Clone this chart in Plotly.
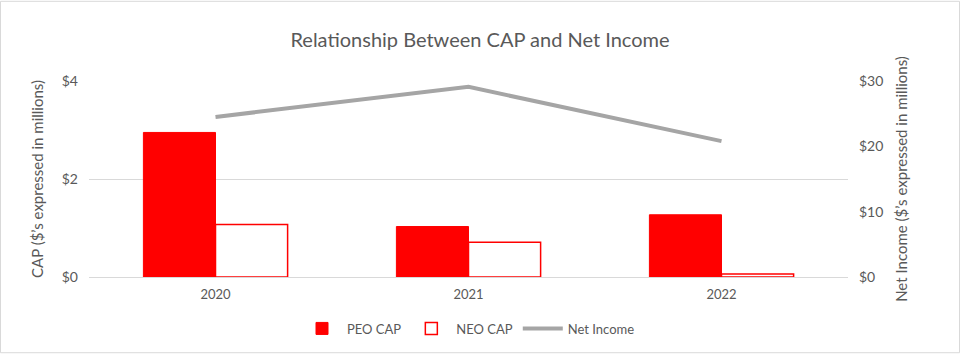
import plotly.graph_objects as go

years = ["2020", "2021", "2022"]
peo_cap = [2.95, 1.03, 1.27]
neo_cap = [1.07, 0.71, 0.06]
net_income = [24.5, 29.1, 20.8]

FONT = "Lato, Liberation Sans, sans-serif"
GRAY = "#595959"

fig = go.Figure()
fig.add_trace(go.Bar(x=years, y=peo_cap, name="PEO CAP",
                     marker=dict(color="#ff0000", line=dict(color="#ff0000", width=1))))
fig.add_trace(go.Bar(x=years, y=neo_cap, name="NEO CAP",
                     marker=dict(color="white", line=dict(color="#ff0000", width=1.5))))
fig.add_trace(go.Scatter(x=years, y=net_income, name="Net Income", yaxis="y2",
                         mode="lines", line=dict(color="#a5a5a5", width=4)))

L, R, T, B = 89, 112, 81, 77
pw, ph = 960 - L - R, 356 - T - B

fig.update_layout(
    width=960, height=356,
    margin=dict(l=L, r=R, t=T, b=B),
    paper_bgcolor="white", plot_bgcolor="white",
    font=dict(family=FONT, color=GRAY, size=13),
    title=dict(text="Relationship Between CAP and Net Income", x=0.5, xanchor="center",
               y=1 - 40 / 356, yanchor="middle",
               font=dict(family=FONT, size=20, color=GRAY)),
    barmode="group", bargap=0.43, bargroupgap=0,
    xaxis=dict(showgrid=False, showline=False, ticks="", tickfont=dict(size=13, color=GRAY),
               ticklabelstandoff=8),
    yaxis=dict(range=[0, 4], dtick=2, tickprefix="$", showgrid=True, gridcolor="#d9d9d9",
               gridwidth=1, zeroline=True, zerolinecolor="#d9d9d9", zerolinewidth=1,
               title=dict(text="CAP ($’s expressed in millions)", font=dict(size=15, color=GRAY), standoff=14),
               tickfont=dict(size=14, color=GRAY), ticklabelstandoff=10),
    yaxis2=dict(range=[0, 30], dtick=10, tickprefix="$", overlaying="y", side="right",
                showgrid=False, zeroline=False,
                title=dict(text="Net Income ($’s expressed in millions)", font=dict(size=15, color=GRAY), standoff=14),
                tickfont=dict(size=14, color=GRAY), ticklabelstandoff=10),
    legend=dict(orientation="h", x=0.5, xanchor="center", y=(279 - 331) / ph, yanchor="middle",
                font=dict(size=13, color=GRAY), traceorder="normal", itemwidth=40),
    showlegend=True,
)

fig.add_shape(type="rect", xref="paper", yref="paper",
              x0=(0.5 - L) / pw, x1=(959.5 - L) / pw,
              y0=(279 - 355.5) / ph, y1=(279 - 0.5) / ph,
              line=dict(color="#d9d9d9", width=1), fillcolor="rgba(0,0,0,0)", layer="below")

fig.write_html("out.html", config={"displayModeBar": False},
               post_script="document.body.style.margin='0';document.body.style.overflow='hidden';")
